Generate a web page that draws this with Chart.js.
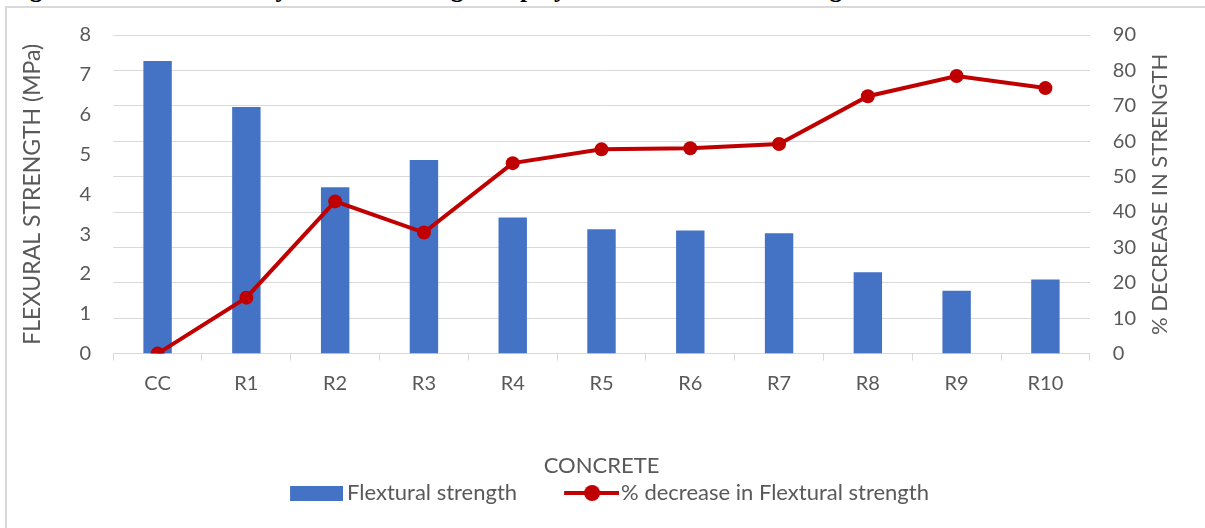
<!DOCTYPE html>
<html>
<head>
<meta charset="utf-8">
<script src="https://cdn.jsdelivr.net/npm/chart.js@4/dist/chart.umd.min.js"></script>
<style>
  html, body { margin: 0; padding: 0; background: #fff; }
  body { width: 1205px; height: 528px; position: relative; overflow: hidden; }
  /* figure caption of the page above, cut off by the crop: only its descenders show */
  #caption {
    position: absolute; left: 7px; top: -23px;
    font-family: "Liberation Serif", "DejaVu Serif", serif; font-weight: bold; font-size: 25.5px;
    line-height: 24px; color: #000; white-space: nowrap;
  }
  #frame {
    position: absolute; left: 5px; top: 6px; width: 1210px; height: 540px;
    border-left: 2px solid #d9d9d9; border-top: 2px solid #d9d9d9; box-sizing: border-box;
  }
  #wrap { position: absolute; left: 0; top: 0; width: 1205px; height: 528px; }
</style>
</head>
<body>
<div id="caption">Fig. 6. Variation of 28 days flexural strength of polyester resin concrete along with conventional concrete</div>
<div id="frame"></div>
<div id="wrap"><canvas id="flexChart"></canvas></div>
<script>
// data
const categories = ['CC', 'R1', 'R2', 'R3', 'R4', 'R5', 'R6', 'R7', 'R8', 'R9', 'R10'];
const flexuralStrength = [7.35, 6.19, 4.18, 4.86, 3.42, 3.12, 3.09, 3.02, 2.04, 1.58, 1.86];
const percentDecrease = [0, 15.8, 43.0, 34.2, 53.8, 57.7, 58.0, 59.2, 72.7, 78.4, 75.0];
const leftTicks = [0, 1, 2, 3, 4, 5, 6, 7, 8];
const rightTicks = [0, 10, 20, 30, 40, 50, 60, 70, 80, 90];
const rightTitle = '% DECREASE IN STRENGTH';

const BLUE = '#4472c4';
const RED = '#c00000';
const GREY_TEXT = '#595959';
const GRID = '#d9d9d9';
const FONT = 'Lato, "Open Sans", sans-serif';

// legend swatches: the image is centred on the legend box, so pad it
// on the left to push the drawn part right, close to the label text
function makeBarSwatch() {
    const c = document.createElement('canvas');
    c.width = 67; c.height = 18;
    const ctx = c.getContext('2d');
    ctx.fillStyle = BLUE;
    ctx.fillRect(14, 2, 53, 15);
    return c;
}
function makeLineSwatch() {
    const c = document.createElement('canvas');
    c.width = 71; c.height = 18;
    const ctx = c.getContext('2d');
    ctx.strokeStyle = RED;
    ctx.lineWidth = 4;
    ctx.beginPath();
    ctx.moveTo(16, 9); ctx.lineTo(71, 9);
    ctx.stroke();
    ctx.fillStyle = RED;
    ctx.beginPath();
    ctx.arc(44, 9, 8, 0, Math.PI * 2);
    ctx.fill();
    return c;
}
const swatches = [makeBarSwatch(), makeLineSwatch()];

// the secondary axis title reads bottom-to-top like the primary one
const rightTitlePlugin = {
    id: 'rightTitle',
    afterDraw(chart) {
        const c = chart.ctx;
        const area = chart.chartArea;
        c.save();
        c.translate(chart.scales.y1.right + 1, (area.top + area.bottom) / 2);
        c.rotate(-Math.PI / 2);
        c.font = '22px ' + FONT;
        c.fillStyle = GREY_TEXT;
        c.textAlign = 'center';
        c.textBaseline = 'middle';
        c.fillText(rightTitle, 0, 0);
        c.restore();
    }
};

// legend sits a bit right of the canvas centre in the original
const legendShiftPlugin = {
    id: 'legendShift',
    afterLayout(chart) {
        chart.legend.left += 17;
        chart.legend.right += 17;
    }
};

const ctx = document.getElementById('flexChart');
new Chart(ctx, {
    data: {
        labels: categories,
        datasets: [{
            type: 'line',
            label: '% decrease in Flextural strength',
            data: percentDecrease,
            yAxisID: 'y1',
            borderColor: RED,
            backgroundColor: RED,
            borderWidth: 4,
            pointRadius: 7,
            pointBackgroundColor: RED,
            pointBorderWidth: 0,
            tension: 0,
            order: 0
        }, {
            type: 'bar',
            label: 'Flextural strength',
            data: flexuralStrength,
            yAxisID: 'y',
            backgroundColor: BLUE,
            borderWidth: 0,
            categoryPercentage: 0.32,
            barPercentage: 1.0,
            order: 1
        }]
    },
    plugins: [rightTitlePlugin, legendShiftPlugin],
    options: {
        responsive: true,
        maintainAspectRatio: false,
        animation: false,
        layout: { padding: { left: 19, right: 46, top: 31, bottom: 14 } },
        plugins: {
            legend: {
                position: 'bottom',
                reverse: true,
                labels: {
                    usePointStyle: true,
                    pointStyleWidth: 53,
                    color: GREY_TEXT,
                    font: { family: FONT, size: 22 },
                    padding: 40,
                    generateLabels: function(chart) {
                        const items = Chart.defaults.plugins.legend.labels.generateLabels(chart);
                        items.forEach(item => {
                            item.pointStyle = item.datasetIndex === 1 ? swatches[0] : swatches[1];
                        });
                        return items;
                    }
                }
            },
            tooltip: { enabled: false }
        },
        scales: {
            x: {
                offset: true,
                grid: {
                    offset: true,
                    drawOnChartArea: false,
                    drawTicks: true,
                    tickLength: 7,
                    color: GRID
                },
                border: { color: GRID, width: 1 },
                ticks: { color: GREY_TEXT, font: { family: FONT, size: 20 }, padding: 11 },
                title: {
                    display: true,
                    text: 'CONCRETE',
                    color: GREY_TEXT,
                    font: { family: FONT, size: 22 },
                    padding: { top: 46, bottom: -37 }
                }
            },
            y: {
                position: 'left',
                min: 0,
                max: 8,
                afterBuildTicks: function(axis) {
                    axis.ticks = leftTicks.map(v => ({ value: v }));
                },
                grid: { display: false, drawTicks: false },
                border: { display: false },
                ticks: { color: GREY_TEXT, font: { family: FONT, size: 20 }, padding: 22 },
                title: {
                    display: true,
                    text: 'FLEXURAL STRENGTH (MPa)',
                    color: GREY_TEXT,
                    font: { family: FONT, size: 23 },
                    padding: { top: 0, bottom: 11 }
                }
            },
            y1: {
                position: 'right',
                min: 0,
                max: 90,
                afterBuildTicks: function(axis) {
                    axis.ticks = rightTicks.map(v => ({ value: v }));
                },
                grid: { color: GRID, drawTicks: false, lineWidth: 1 },
                border: { display: false },
                ticks: { color: GREY_TEXT, font: { family: FONT, size: 20 }, padding: 23 }
            }
        }
    }
});
</script>
</body>
</html>
